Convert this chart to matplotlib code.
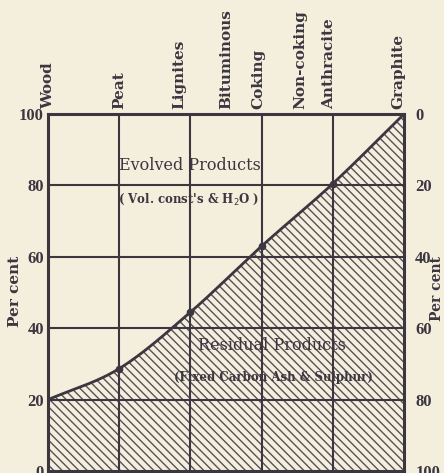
import numpy as np
import matplotlib
matplotlib.use("Agg")
import matplotlib.pyplot as plt

# categories along the top (position in grid units) and the curve values
fuels = ["Wood", "Peat", "Lignites", "Bituminous", "Coking", "Non-coking", "Anthracite", "Graphite"]
fuel_pos = [0, 1, 1.85, 2.5, 2.95, 3.55, 3.95, 4.92]
curve_x = [0, 1, 2, 3, 4, 5]
curve_y = [20, 28.7, 44.5, 63, 80.5, 100]
marked_x = [1, 2, 3, 4]
marked_y = [28.7, 44.5, 63, 80.5]
left_ticks = [0, 20, 40, 60, 80, 100]
right_ticks = [0, 20, 40, 60, 80, 100]

paper = "#f4efdc"
ink = "#3b3640"
plt.rcParams["font.family"] = ["DejaVu Serif"]
plt.rcParams["hatch.linewidth"] = 1.0
plt.rcParams["hatch.color"] = "#55505a"


def smooth(xs, ys, n=40):
    # cubic hermite through the read points, only for drawing the line
    xs = np.asarray(xs, float)
    ys = np.asarray(ys, float)
    m = np.gradient(ys, xs)
    px, py = [], []
    for i in range(len(xs) - 1):
        t = np.linspace(0, 1, n, endpoint=False)
        h = xs[i + 1] - xs[i]
        h00 = 2 * t**3 - 3 * t**2 + 1
        h10 = t**3 - 2 * t**2 + t
        h01 = -2 * t**3 + 3 * t**2
        h11 = t**3 - t**2
        px.append(xs[i] + t * h)
        py.append(h00 * ys[i] + h10 * h * m[i] + h01 * ys[i + 1] + h11 * h * m[i + 1])
    px.append([xs[-1]])
    py.append([ys[-1]])
    return np.concatenate(px), np.concatenate(py)


fig = plt.figure(figsize=(4.44, 4.73), dpi=100, facecolor=paper)
ax = fig.add_axes([0.108, 0.004, 0.802, 0.755])
ax.set_facecolor(paper)
ax.set_xlim(0, 5)
ax.set_ylim(0, 100)

sx, sy = smooth(curve_x, curve_y)
ax.fill_between(sx, 0, sy, facecolor=paper, hatch="\\\\\\\\", edgecolor="#55505a", linewidth=0)
ax.plot(sx, sy, color=ink, lw=2)
ax.plot(marked_x, marked_y, "o", ms=4.5, color=ink, mfc=ink)

for g in curve_x[1:-1]:
    ax.axvline(g, color=ink, lw=1.5)
for g in left_ticks[1:-1]:
    ax.axhline(g, color=ink, lw=1.5)
for s in ax.spines.values():
    s.set_linewidth(2.2)
    s.set_color(ink)

tick_font = dict(family="Liberation Serif", size=12, weight="bold")
ax.set_xticks([])
ax.set_yticks(left_ticks)
ax.set_yticklabels([str(v) for v in left_ticks], color=ink, fontdict=tick_font)
ax.tick_params(axis="y", length=0, pad=3)
fig.text(0.034, 0.383, "Per cent", rotation=90, ha="center", va="center",
         fontsize=11, fontweight="bold", color=ink)

ax2 = ax.twinx()
ax2.set_ylim(100, 0)
ax2.set_yticks(right_ticks)
ax2.set_yticklabels([str(v) for v in right_ticks], color=ink, fontdict=tick_font)
ax2.tick_params(axis="y", length=0, pad=8)
for s in ax2.spines.values():
    s.set_visible(False)
fig.text(0.984, 0.39, "Per cent", rotation=90, ha="center", va="center",
         fontsize=10, fontweight="bold", color=ink)

for name, p in zip(fuels, fuel_pos):
    ax.text(p, 101.5, name, rotation=90, ha="center", va="bottom", fontsize=11,
            fontweight="bold", color=ink)

ax.text(2.0, 85.5, "Evolved Products", ha="center", va="center", fontsize=11.5, color=ink)
ax.text(1.98, 76, "( Vol. const's & H$_2$O )", ha="center", va="center", fontsize=8.5,
        fontweight="bold", color=ink)
ax.text(3.15, 35.3, "Residual Products", ha="center", va="center", fontsize=11.5, color=ink)
ax.text(3.16, 26.3, "(Fixed Carbon Ash & Sulphur)", ha="center", va="center", fontsize=8.5,
        fontweight="bold", color=ink)

fig.savefig("out.png", dpi=100, facecolor=paper)
